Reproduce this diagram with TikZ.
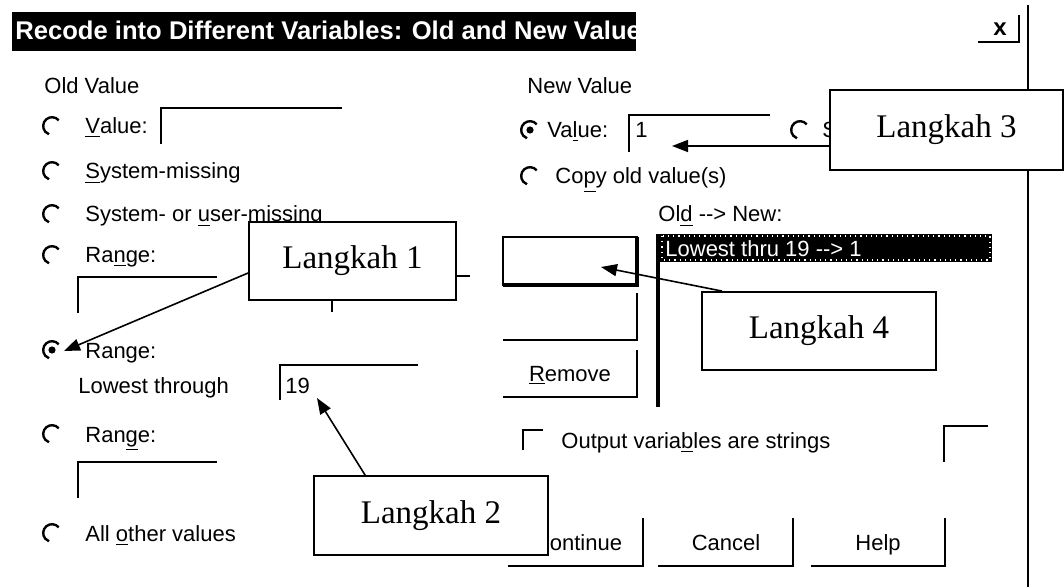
\documentclass[tikz,border=0pt]{standalone}
\usepackage{fontspec}
\setmainfont{Liberation Sans}
\newfontfamily\stepfont{Liberation Serif}
\usetikzlibrary{arrows.meta}

\newcommand{\radiobtn}[2]{\draw[radio] (#1,#2) ++(40:4.4pt) arc (40:250:4.4pt);}
\newcommand{\radiodot}[2]{\fill (#1,#2) circle[radius=1.8pt];}

\begin{document}
\begin{tikzpicture}[x=0.5pt,y=-0.5pt,
  txt/.style={anchor=base west,inner sep=0pt,font=\fontsize{11}{13}\selectfont},
  btxt/.style={anchor=base,inner sep=0pt,font=\fontsize{11}{13}\selectfont},
  field/.style={line width=1.3pt},
  radio/.style={line width=1.2pt},
  stepbox/.style={draw,fill=white,line width=0.9pt,inner sep=0pt,
    font=\stepfont\fontsize{16.5}{18}\selectfont},
  pointer/.style={-{Triangle[length=8pt,width=6pt]},line width=0.8pt}]
\useasboundingbox (0,0) rectangle (1064,587);

% title bar
\fill (12,12) rectangle (636,51);
\begin{scope}
\clip (12,12) rectangle (636,51);
\node[txt,text=white,font=\bfseries\fontsize{12.8}{14}\selectfont] (title) at (15,40) {Recode into Different Variables: Old and New Value};
\end{scope}
\node[inner sep=0pt,font=\bfseries\fontsize{12}{14}\selectfont] (close) at (1000,29) {x};
\draw[field] (978,42) -| (1019,15);
\draw[line width=1.3pt] (1028,5) -- (1028,587);

% old value
\node[txt] (oldval) at (44,94) {Old Value};
\radiobtn{52}{126}
\node[txt] (oval) at (85,134) {\underline{V}alue:};
\draw[field] (161,144) |- (342,108);
\radiobtn{52}{171}
\node[txt] (sysmis) at (85,179) {\underline{S}ystem-missing};
\radiobtn{52}{214}
\node[txt] (usermis) at (85,222) {System- or \underline{u}ser-missing};
\radiobtn{52}{255}
\node[txt] (rangeA) at (85,263) {Ra\underline{n}ge:};
\draw[field] (78,313) |- (217,277);
\draw[field] (456,276) -- (470,276);
\draw[field] (332,300) -- (332,312);
\radiobtn{52}{350}
\radiodot{52}{350}
\node[txt] (rangeB) at (85,358) {Range:};
\node[txt] (lowest) at (78,393) {Lowest through};
\draw[field] (280,400) |- (418,365);
\node[txt] (nineteen) at (285,393) {19};
\radiobtn{52}{434}
\node[txt] (rangeC) at (85,442) {Ran\underline{g}e:};
\draw[field] (78,498) |- (217,462);
\radiobtn{52}{533}
\node[txt] (allother) at (85,541) {All \underline{o}ther values};

% new value
\node[txt] (newval) at (527,94) {New Value};
\radiobtn{530}{130}
\radiodot{530}{130}
\node[txt] (nval) at (547,138) {Va\underline{l}ue:};
\draw[field] (629,152) |- (770,115);
\node[txt] (one) at (635,138) {1};
\radiobtn{800}{130}
\node[txt] (sysB) at (822,138) {S};
\radiobtn{530}{176}
\node[txt] (copyold) at (555,184) {Co\underline{p}y old value(s)};
\node[txt] (oldnew) at (658,222) {Ol\underline{d} -{}-> New:};

% middle buttons
\draw[field] (503,237) rectangle (637,285);
\draw[line width=2.4pt] (503,285) -| (637,237);
\draw[field] (503,340) -| (637,293);
\draw[field] (503,397) -| (637,350);
\node[btxt] (remove) at (570,381) {\underline{R}emove};

% list
\draw[line width=1.8pt] (658,234) -- (658,407);
\fill (660,234) rectangle (992,262);
\draw[white,dotted,line width=0.6pt] (662,236) rectangle (990,260);
\node[txt,text=white] (entry) at (665,257) {Lowest thru 19 -{}-> 1};

% bottom
\draw[field] (523,450) |- (543,430);
\node[txt] (outvar) at (561,448) {Output varia\underline{b}les are strings};
\draw[field] (944,462) |- (988,426);
\draw[field] (508,566) -| (643,518);
\node[btxt] (continue) at (578,550) {Continue};
\draw[field] (658,566) -| (793,518);
\node[btxt] (cancel) at (726,550) {Cancel};
\draw[field] (811,566) -| (945,518);
\node[btxt] (help) at (878,550) {Help};

% steps
\node[stepbox,minimum width=103.5pt,minimum height=39pt] (step1) at (352.5,261) {Langkah 1};
\node[stepbox,minimum width=117pt,minimum height=39.5pt] (step2) at (431,515.5) {Langkah 2};
\node[stepbox,minimum width=116.5pt,minimum height=40pt] (step3) at (946.5,130) {Langkah 3};
\node[stepbox,minimum width=117pt,minimum height=39pt] (step4) at (819,331) {Langkah 4};
\coordinate (tip1) at (64,351);
\coordinate (tip2) at (317,398);
\coordinate (tip3) at (672,146);
\coordinate (tip4) at (601,267);
\draw[pointer] ([yshift=-6pt]step1.west) -- (tip1);
\draw[pointer] ([xshift=26pt]step2.north west) -- (tip2);
\draw[pointer] ([yshift=-8pt]step3.west) -- (tip3);
\draw[pointer] ([xshift=10.5pt]step4.north west) -- (tip4);
\end{tikzpicture}
\end{document}
